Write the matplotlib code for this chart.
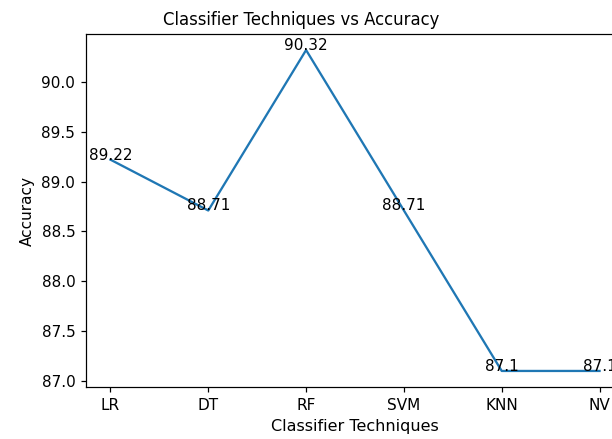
import matplotlib
matplotlib.use('Agg')
import matplotlib.pyplot as plt

techniques = ['LR', 'DT', 'RF', 'SVM', 'KNN', 'NV']
accuracy = [89.22, 88.71, 90.32, 88.71, 87.1, 87.1]

dpi = 110
fig = plt.figure(figsize=(612 / dpi, 439 / dpi), dpi=dpi)
# the original screenshot cuts the axes off at the right edge
ax = fig.add_axes([86 / 612, 1 - 387 / 439, 538 / 612, (387 - 34) / 439])
ax.plot(techniques, accuracy)
for i, acc in enumerate(accuracy):
	ax.text(i, acc, str(acc), ha='center')
# title sits centred on the visible part, not on the full axes
ax.set_title('Classifier Techniques vs Accuracy', x=(301 - 86) / 538, fontsize=10.8)
ax.set_xlabel('Classifier Techniques', fontsize=10.5)
ax.set_ylabel('Accuracy')
fig.savefig('out.png', dpi=dpi)
